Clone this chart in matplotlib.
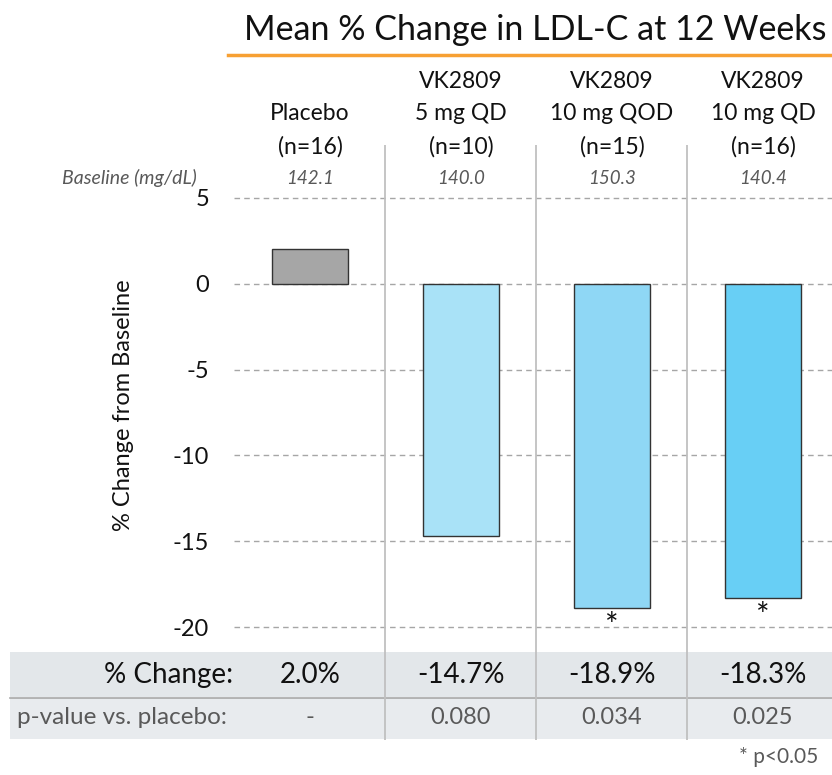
import matplotlib.pyplot as plt
from matplotlib.patches import Rectangle
from matplotlib.transforms import blended_transform_factory

plt.rcParams['font.family'] = ['Lato', 'DejaVu Sans']

groups = ["Placebo", "VK2809\n5 mg QD", "VK2809\n10 mg QOD", "VK2809\n10 mg QD"]
n_sizes = ["(n=16)", "(n=10)", "(n=15)", "(n=16)"]
baseline = ["142.1", "140.0", "150.3", "140.4"]
pct_change = [2.0, -14.7, -18.9, -18.3]
p_values = ["-", "0.080", "0.034", "0.025"]
significant = [False, False, True, True]
colors = ["#a6a6a6", "#a9e2f7", "#8fd7f5", "#68cff5"]
yticks = [5, 0, -5, -10, -15, -20]

W, H = 832, 775


def fx(px):
    return px / W


def fy(py):
    return 1 - py / H


fig = plt.figure(figsize=(W / 100, H / 100), dpi=100)

# axes spans the plot region plus the table rows (pixel 145 -> 740)
ax = fig.add_axes([fx(234), fy(740), fx(832) - fx(234), fy(145) - fy(740)])
ax.set_zorder(1)
ax.patch.set_visible(False)
px_per_unit = (627 - 198) / 25.0
ax.set_ylim(-20 - (740 - 627) / px_per_unit, 5 + (198 - 145) / px_per_unit)
ax.set_xlim(-0.503, 3.457)

x = list(range(len(groups)))
ax.bar(x, pct_change, width=0.5, color=colors, edgecolor="#333333", linewidth=1.0, zorder=3)

ax.set_yticks(yticks)
ax.set_yticklabels([str(t) for t in yticks], fontsize=17, color="#111111")
ax.tick_params(axis="y", length=0, pad=18)
ax.set_xticks([])
ax.grid(axis="y", color="#a6a6a6", linestyle=(0, (4, 3)), linewidth=1.0, zorder=1)
for s in ax.spines.values():
    s.set_visible(False)

# column separators
for i in range(1, len(groups)):
    ax.axvline(i - 0.5, color="#c0c0c0", linewidth=1.3, zorder=2)

# significance stars
for i, v in enumerate(pct_change):
    if significant[i]:
        ax.text(i, v - 0.25, "*", ha="center", va="top", fontsize=23, color="#111111")

fig.text(fx(123), fy(405), "% Change from Baseline", rotation=90, ha="center", va="center",
         fontsize=17, color="#111111")

# headers above the plot
tr = blended_transform_factory(ax.transData, fig.transFigure)
header_rows = [82, 114]
for i in x:
    lines = groups[i].split("\n")
    for line, row in zip(lines, header_rows[-len(lines):]):
        ax.text(i, fy(row), line, transform=tr, ha="center", va="center",
                fontsize=16.5, color="#111111")
    ax.text(i, fy(147), n_sizes[i], transform=tr, ha="center", va="center",
            fontsize=16.5, color="#111111")
    ax.text(i, fy(178), baseline[i], transform=tr, ha="center", va="center",
            fontsize=13.5, color="#595959", style="italic")
    ax.text(i, fy(675), f"{pct_change[i]:.1f}%", transform=tr, ha="center", va="center",
            fontsize=20, color="#111111")
    ax.text(i, fy(718), p_values[i], transform=tr, ha="center", va="center",
            fontsize=17, color="#595959")

fig.text(fx(197), fy(178), "Baseline (mg/dL)", ha="right", va="center",
         fontsize=14, color="#595959", style="italic")

# table backgrounds
fig.patches.append(Rectangle((fx(10), fy(697)), fx(832) - fx(10), fy(652) - fy(697),
                             transform=fig.transFigure, facecolor="#e3e7ea",
                             edgecolor="none", zorder=0.5))
fig.patches.append(Rectangle((fx(10), fy(739)), fx(832) - fx(10), fy(698) - fy(739),
                             transform=fig.transFigure, facecolor="#e8ebee",
                             edgecolor="none", zorder=0.5))
fig.add_artist(plt.Line2D([fx(10), fx(832)], [fy(697.5), fy(697.5)],
                          transform=fig.transFigure, color="#a8a8a8", linewidth=1.2, zorder=0.6))

fig.text(fx(233), fy(675), "% Change:", ha="right", va="center", fontsize=20, color="#111111")
fig.text(fx(17), fy(718), "p-value vs. placebo:", ha="left", va="center", fontsize=17.5, color="#595959")
fig.text(fx(818), fy(757), "* p<0.05", ha="right", va="center", fontsize=15, color="#595959")

# title and underline
fig.text(fx(535), fy(30), "Mean % Change in LDL-C at 12 Weeks", ha="center", va="center",
         fontsize=24.5, color="#111111")
fig.add_artist(plt.Line2D([fx(228), fx(832)], [fy(55), fy(55)], transform=fig.transFigure,
                          color="#f7a033", linewidth=2.5))

fig.savefig("out.png", dpi=100)
